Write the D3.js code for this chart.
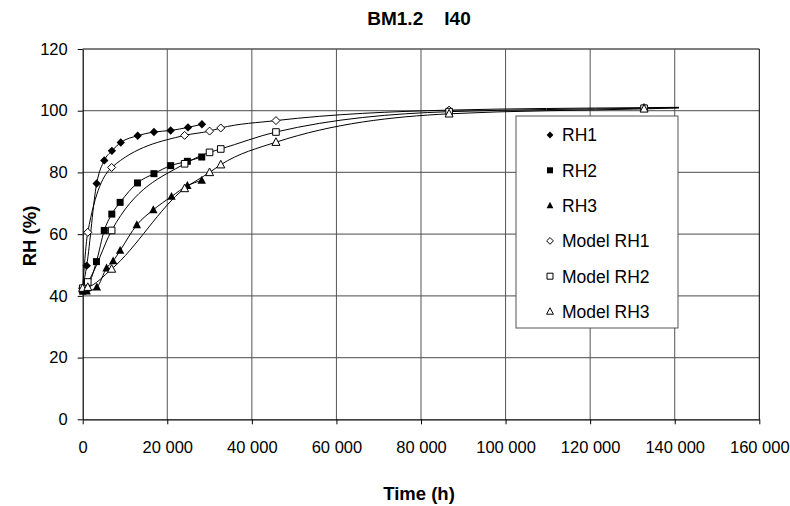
<!DOCTYPE html>
<html>
<head>
<meta charset="utf-8">
<script src="https://cdn.jsdelivr.net/npm/d3@7"></script>
<style>
  body { margin: 0; background: #fff; }
  svg { display: block; font-family: "Liberation Sans", Arial, sans-serif; }
</style>
</head>
<body>
<svg id="chart" width="790" height="506"></svg>
<script>
// Axis ticks
const xTickValues = [0, 20000, 40000, 60000, 80000, 100000, 120000, 140000, 160000];
const yTickValues = [0, 20, 40, 60, 80, 100, 120];

// Measured relative humidity (time in hours, RH in %)
const rh1Time = [0, 950, 3300, 5100, 6900, 9000, 13000, 16850, 20800, 24900, 28200];
const rh1 = [42.5, 49.8, 76.4, 83.9, 87.0, 89.7, 91.9, 93.1, 93.6, 94.6, 95.6];
const rh2Time = [0, 950, 3250, 5100, 6880, 8850, 12950, 16850, 20800, 24750, 28150];
const rh2 = [41.5, 42.5, 51.1, 61.2, 66.5, 70.3, 76.6, 79.6, 82.2, 83.6, 85.0];
const rh3Time = [0, 950, 3350, 5650, 7200, 8850, 12800, 16700, 21000, 24750, 28150];
const rh3 = [42.0, 41.5, 42.8, 49.0, 51.3, 54.7, 63.0, 67.9, 72.2, 75.7, 77.4];

// Model results at the marked times
const modelTime = [0, 1200, 6850, 24100, 30000, 32650, 45700, 86650, 132750];
const modelRh1 = [42.5, 60.6, 81.6, 92.0, 93.4, 94.4, 96.8, 100.2, 101.0];
const modelRh2 = [42.5, 44.5, 61.2, 82.8, 86.5, 87.6, 93.1, 99.7, 100.8];
const modelRh3 = [42.5, 42.8, 48.7, 74.8, 80.0, 82.5, 89.8, 99.0, 100.6];
// Model curves continue past the last marker
const modelEndTime = 141000;
const modelEnd = [101.1, 101.0, 100.9];

const seriesNames = ["RH1", "RH2", "RH3", "Model RH1", "Model RH2", "Model RH3"];

const svg = d3.select("#chart");
const x = d3.scaleLinear().domain([0, 160000]).range([82.7, 759.3]);
const y = d3.scaleLinear().domain([0, 120]).range([419.3, 49]);

const fmt = d3.formatLocale({ decimal: ",", thousands: " ", grouping: [3], currency: ["", ""] }).format(",");

// Grid lines
const grid = svg.append("g");
grid.selectAll("line.h").data(yTickValues.filter(v => v > 0)).join("line")
  .attr("x1", x(0)).attr("x2", x(160000))
  .attr("y1", d => y(d)).attr("y2", d => y(d))
  .attr("stroke", d => d === 120 ? "#000" : "#6e6e6e").attr("stroke-width", 1.2);
grid.selectAll("line.v").data(xTickValues.filter(v => v > 0)).join("line")
  .attr("x1", d => x(d)).attr("x2", d => x(d))
  .attr("y1", y(0)).attr("y2", y(120))
  .attr("stroke", d => d === 160000 ? "#000" : "#555").attr("stroke-width", 1);

// Axes
const xAxis = svg.append("g").attr("transform", `translate(0,${y(0)})`)
  .call(d3.axisBottom(x).tickValues(xTickValues).tickFormat(fmt).tickSize(5).tickSizeOuter(0).tickPadding(17));
const yAxis = svg.append("g").attr("transform", `translate(${x(0)},0)`)
  .call(d3.axisLeft(y).tickValues(yTickValues).tickSize(5).tickSizeOuter(0).tickPadding(10));
[xAxis, yAxis].forEach(a => {
  a.select(".domain").attr("stroke", "#000").attr("stroke-width", 1.2);
  a.selectAll(".tick line").attr("stroke", "#000");
  a.selectAll("text").attr("font-size", 16.5).attr("fill", "#000")
    .attr("font-family", "'Liberation Sans', Arial, sans-serif");
});

// Marker shapes
function markerPath(kind, r) {
  if (kind === "diamond") return `M0,${-r}L${r},0L0,${r}L${-r},0Z`;
  if (kind === "square") return `M${-r},${-r}H${r}V${r}H${-r}Z`;
  return `M0,${-r * 1.1}L${r},${r * 0.8}L${-r},${r * 0.8}Z`;
}

const line = d3.line().x(d => x(d[0])).y(d => y(d[1])).curve(d3.curveMonotoneX);

const measured = [
  { t: rh1Time, v: rh1, kind: "diamond", r: 4.2 },
  { t: rh2Time, v: rh2, kind: "square", r: 3.5 },
  { t: rh3Time, v: rh3, kind: "triangle", r: 4.2 }
];
const model = [
  { v: modelRh1, end: modelEnd[0], kind: "diamond", r: 4 },
  { v: modelRh2, end: modelEnd[1], kind: "square", r: 3.3 },
  { v: modelRh3, end: modelEnd[2], kind: "triangle", r: 4 }
];

const plot = svg.append("g");
measured.forEach(s => {
  const pts = s.t.map((t, i) => [t, s.v[i]]);
  plot.append("path").attr("d", line(pts)).attr("fill", "none").attr("stroke", "#000").attr("stroke-width", 1);
  plot.append("g").selectAll("path").data(pts).join("path")
    .attr("transform", d => `translate(${x(d[0])},${y(d[1])})`)
    .attr("d", markerPath(s.kind, s.r)).attr("fill", "#000");
});
model.forEach(s => {
  const pts = modelTime.map((t, i) => [t, s.v[i]]);
  plot.append("path").attr("d", line(pts.concat([[modelEndTime, s.end]])))
    .attr("fill", "none").attr("stroke", "#000").attr("stroke-width", 1);
});
model.forEach(s => {
  const pts = modelTime.map((t, i) => [t, s.v[i]]);
  plot.append("g").selectAll("path").data(pts).join("path")
    .attr("transform", d => `translate(${x(d[0])},${y(d[1])})`)
    .attr("d", markerPath(s.kind, s.r)).attr("fill", "#fff").attr("stroke", "#000").attr("stroke-width", 1);
});

// Legend
const legend = svg.append("g");
legend.append("rect").attr("x", 516).attr("y", 116).attr("width", 162).attr("height", 212)
  .attr("fill", "#fff").attr("stroke", "#555").attr("stroke-width", 1);
const kinds = ["diamond", "square", "triangle", "diamond", "square", "triangle"];
seriesNames.forEach((name, i) => {
  const cy = 135 + i * 35.3;
  legend.append("path").attr("transform", `translate(550,${cy})`)
    .attr("d", markerPath(kinds[i], kinds[i] === "square" ? 3 : 3.4))
    .attr("fill", i < 3 ? "#000" : "#fff").attr("stroke", "#000").attr("stroke-width", i < 3 ? 0 : 1);
  legend.append("text").attr("x", 562).attr("y", cy).attr("dy", "0.36em")
    .attr("font-size", 17.5).text(name);
});

// Titles
svg.append("text").attr("x", 419).attr("y", 25).attr("text-anchor", "middle")
  .attr("font-size", 19).attr("font-weight", "bold").attr("xml:space", "preserve").text("BM1.2    I40");
svg.append("text").attr("x", 419).attr("y", 500).attr("text-anchor", "middle")
  .attr("font-size", 18.5).attr("font-weight", "bold").text("Time (h)");
svg.append("text").attr("transform", "translate(36,236) rotate(-90)").attr("text-anchor", "middle")
  .attr("font-size", 18.5).attr("font-weight", "bold").text("RH (%)");
</script>
</body>
</html>
